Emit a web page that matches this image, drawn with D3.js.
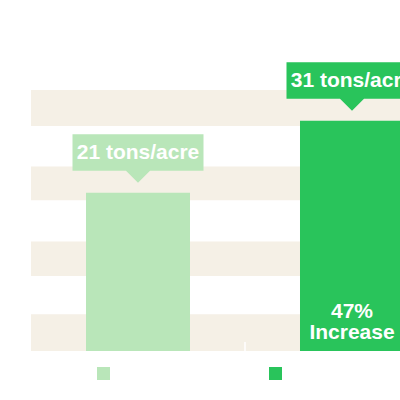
<!DOCTYPE html>
<html>
<head>
<meta charset="utf-8">
<script src="https://cdn.jsdelivr.net/npm/d3@7"></script>
<style>
html,body{margin:0;padding:0;background:#fff;overflow:hidden;}
svg{display:block;font-family:"Liberation Sans",Arial,sans-serif;}
</style>
</head>
<body>
<svg id="chart" width="400" height="400"></svg>
<script>
const categories = ["Before", "After"];
const values = [21.1, 30.7];
const labels = ["21 tons/acre", "31 tons/acre"];
const colors = ["#b9e6b9", "#29c45b"];
const bandRanges = [[0, 4.9], [10, 14.6], [20.1, 24.6], [30, 34.8]];
const increaseLines = ["47%", "Increase"];

const svg = d3.select("#chart");
const plot = {left: 31, right: 459, top: 51, bottom: 351};

const y = d3.scaleLinear().domain([0, 40]).range([plot.bottom, plot.top]);
const x = d3.scaleBand().domain(categories).range([plot.left, plot.right])
  .paddingInner(0.514).paddingOuter(0.257);
const xCat = d3.scaleBand().domain(categories).range([plot.left, plot.right]).padding(0);

// plot bands
svg.append("g").selectAll("rect").data(bandRanges).join("rect")
  .attr("x", plot.left).attr("width", plot.right - plot.left)
  .attr("y", d => y(d[1])).attr("height", d => y(d[0]) - y(d[1]))
  .attr("fill", "#f5f0e6");

// category ticks
svg.append("g").selectAll("line").data(categories.slice(1)).join("line")
  .attr("x1", d => xCat(d)).attr("x2", d => xCat(d))
  .attr("y1", plot.bottom - 9).attr("y2", plot.bottom)
  .attr("stroke", "#fff").attr("stroke-width", 1.5);

// bars
svg.append("g").selectAll("rect").data(values).join("rect")
  .attr("x", (d, i) => x(categories[i]))
  .attr("width", x.bandwidth())
  .attr("y", d => y(d))
  .attr("height", d => plot.bottom - y(d))
  .attr("fill", (d, i) => colors[i]);

// callout labels
const lab = svg.append("g").selectAll("g").data(values).join("g")
  .attr("transform", (d, i) => `translate(${x(categories[i]) + x.bandwidth() / 2},${y(d) - 22})`);
lab.each(function(d, i) {
  const g = d3.select(this);
  const boxH = 36.5, half = 65.5, tri = 12;
  g.append("path")
    .attr("d", `M${-half},${-boxH}H${half}V0H${tri}L0,${tri}L${-tri},0H${-half}Z`)
    .attr("fill", colors[i]);
  g.append("text").attr("text-anchor", "middle").attr("y", -12)
    .attr("fill", "#fff").attr("font-weight", "bold").attr("font-size", 21)
    .text(labels[i]);
});

// increase text inside second bar
const cx2 = x(categories[1]) + x.bandwidth() / 2;
svg.append("g").selectAll("text").data(increaseLines).join("text")
  .attr("x", cx2).attr("y", (d, i) => 317.5 + i * 21)
  .attr("text-anchor", "middle").attr("fill", "#fff")
  .attr("font-weight", "bold").attr("font-size", 21)
  .text(d => d);

// legend symbols
svg.append("g").selectAll("rect").data(categories).join("rect")
  .attr("x", (d, i) => [97, 269][i]).attr("y", 367)
  .attr("width", 13).attr("height", 13)
  .attr("fill", (d, i) => colors[i]);
</script>
</body>
</html>
